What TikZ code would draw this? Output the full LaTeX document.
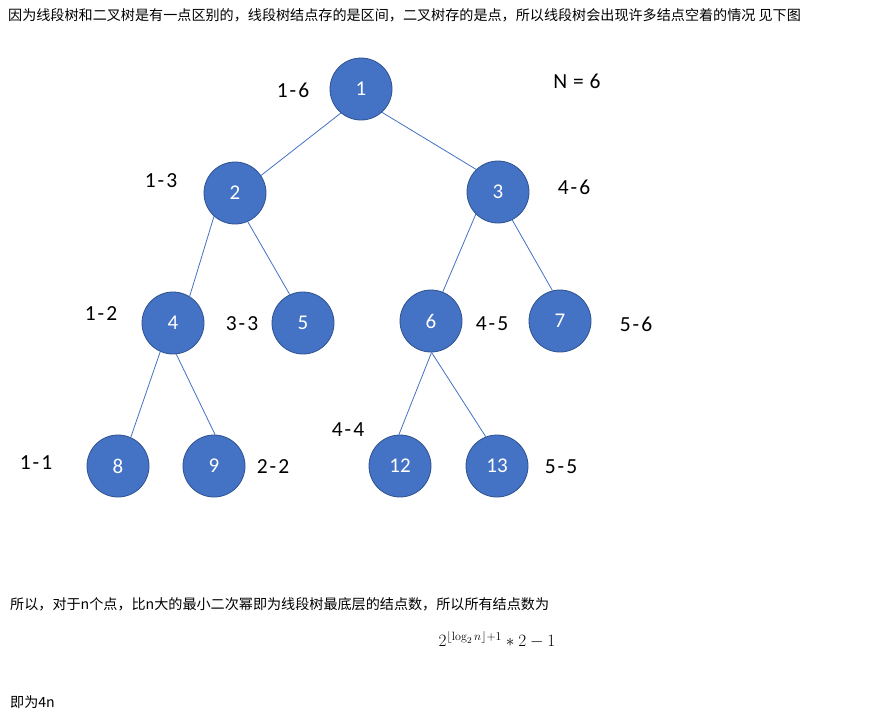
\documentclass[tikz,border=0pt]{standalone}
\usepackage[no-math]{fontspec}
\setmainfont{Carlito}
\newfontfamily\cjk{Noto Sans CJK SC}
\definecolor{nodeblue}{HTML}{4472C4}
\definecolor{nodeedge}{HTML}{2F528F}
\newcommand{\rg}[2]{#1\kern2pt-\kern2pt#2}
\begin{document}
\begin{tikzpicture}[x=1pt,y=-1pt,
  tnode/.style={circle,fill=nodeblue,draw=nodeedge,line width=0.8pt,minimum size=62pt,inner sep=0pt,text=white,font=\fontsize{21}{21}\selectfont},
  rng/.style={font=\fontsize{21.5}{21.5}\selectfont,inner sep=0pt},
  conn/.style={draw=nodeblue,line width=0.8pt},
  cjktext/.style={font=\cjk\fontsize{14.1}{15}\selectfont,inner sep=0pt,anchor=west}]
\useasboundingbox[fill=white] (0,0) rectangle (877,713);
% top text
\node[cjktext] (t1) at (8,15) {因为线段树和二叉树是有一点区别的，线段树结点存的是区间，二叉树存的是点，所以线段树会出现许多结点空着的情况 见下图};
% tree nodes
\node[tnode] (n1) at (361,89) {1};
\node[tnode] (n2) at (235,193) {2};
\node[tnode] (n3) at (498,192) {3};
\node[tnode] (n4) at (173,323) {4};
\node[tnode] (n5) at (303,323) {5};
\node[tnode] (n6) at (431,321) {6};
\node[tnode] (n7) at (560,321) {7};
\node[tnode] (n8) at (118,466) {8};
\node[tnode] (n9) at (214,466) {9};
\node[tnode] (n12) at (400,466) {12};
\node[tnode] (n13) at (497,466) {13};
% connectors
\draw[conn] (n1.230) -- (n2.34);
\draw[conn] (n1.312) -- (n3.134);
\draw[conn] (n2.228) -- (n4.58);
\draw[conn] (n2.294) -- (n5.115);
\draw[conn] (n3.225) -- (n6.68);
\draw[conn] (n3.297) -- (n7.104);
\draw[conn] (n4.246) -- (n8.66);
\draw[conn] (n4.276) -- (n9.88);
\draw[conn] (n6.271) -- (n12.92);
\draw[conn] (n6.271) -- (n13.111);
% range labels
\node[rng] (l16) at (293,90) {\rg16};
\node[rng] (lN) at (577,81) {N\kern1pt\ =\kern1pt\ 6};
\node[rng] (l13) at (161,181) {\rg13};
\node[rng] (l46) at (574,187) {\rg46};
\node[rng] (l12) at (101,314) {\rg12};
\node[rng] (l33) at (242,324) {\rg33};
\node[rng] (l45) at (492,324) {\rg45};
\node[rng] (l56) at (636,324) {\rg56};
\node[rng] (l44) at (348,430) {\rg44};
\node[rng] (l11) at (36,463) {\rg11};
\node[rng] (l22) at (273,467) {\rg22};
\node[rng] (l55) at (561,467) {\rg55};
% bottom text
\node[cjktext] (t2) at (10,604) {所以，对于n个点，比n大的最小二次幂即为线段树最底层的结点数，所以所有结点数为};
\node[inner sep=0pt,font=\fontsize{17.5}{17.5}\selectfont] (f) at (497,640) {$2^{\lfloor \log_2 n\rfloor+1}*2-1$};
\node[cjktext] (t3) at (10,702) {即为4n};
\end{tikzpicture}
\end{document}
